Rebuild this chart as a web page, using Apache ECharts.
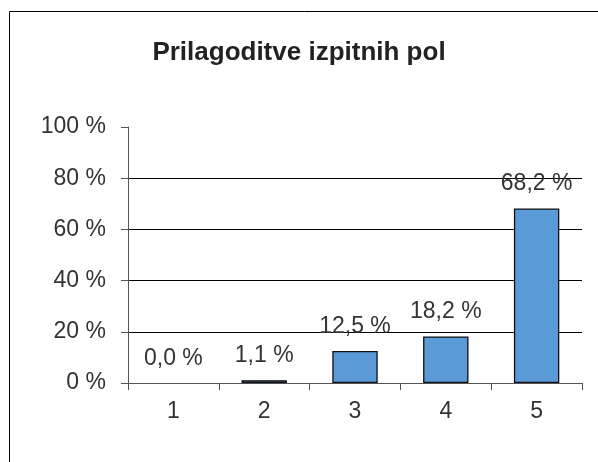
<!DOCTYPE html>
<html>
<head>
<meta charset="utf-8">
<script src="https://cdn.jsdelivr.net/npm/echarts@6/dist/echarts.min.js"></script>
<style>
  html, body { margin: 0; padding: 0; background: #fff; }
  #chart { width: 598px; height: 462px; }
</style>
</head>
<body>
<div id="chart"></div>
<script>
// Prilagoditve izpitnih pol - share of answers per grade
const categories = ['1', '2', '3', '4', '5'];
const shares = [0.0, 1.1, 12.5, 18.2, 68.2];
const yTicks = [0, 20, 40, 60, 80, 100];

const chart = echarts.init(document.getElementById('chart'));

const fmt = (v) => v.toFixed(1).replace('.', ',') + ' %';

chart.setOption({
  animation: false,
  textStyle: { fontFamily: 'Liberation Sans, Arial, sans-serif' },
  title: {
    text: 'Prilagoditve izpitnih pol',
    left: 294,
    textAlign: 'center',
    top: 35,
    textStyle: { fontSize: 26, fontWeight: 'bold', color: '#222' }
  },
  graphic: [{
    type: 'rect',
    shape: { x: 9.5, y: 11.5, width: 620, height: 480 },
    style: { fill: null, stroke: '#000', lineWidth: 1 },
    silent: true
  }],
  grid: { left: 128, right: 16, top: 127, bottom: 79 },
  xAxis: {
    type: 'category',
    data: categories,
    axisLine: { lineStyle: { color: '#555', width: 1 } },
    axisTick: { show: true, length: 7, alignWithLabel: false, lineStyle: { color: '#555' } },
    axisLabel: { fontSize: 23, color: '#333', margin: 17 }
  },
  yAxis: {
    type: 'value',
    min: yTicks[0],
    max: yTicks[yTicks.length - 1],
    interval: 20,
    axisLine: { show: true, lineStyle: { color: '#555', width: 1 } },
    axisTick: { show: true, length: 7, lineStyle: { color: '#555' } },
    axisLabel: { fontSize: 23, color: '#333', margin: 22, formatter: (v) => v + ' %' },
    splitLine: { show: true, showMinLine: false, showMaxLine: false, lineStyle: { color: '#000', width: 1 } }
  },
  series: [{
    type: 'bar',
    data: shares.map((v) => (v === 0 ? { value: v, itemStyle: { borderWidth: 0 } } : v)),
    barWidth: '50%',
    itemStyle: { color: '#5a9ad6', borderColor: '#111', borderWidth: 1.3 },
    label: {
      show: true,
      position: 'top',
      distance: 13,
      fontSize: 23,
      color: '#333',
      formatter: (p) => fmt(p.value)
    }
  }]
});
</script>
</body>
</html>
